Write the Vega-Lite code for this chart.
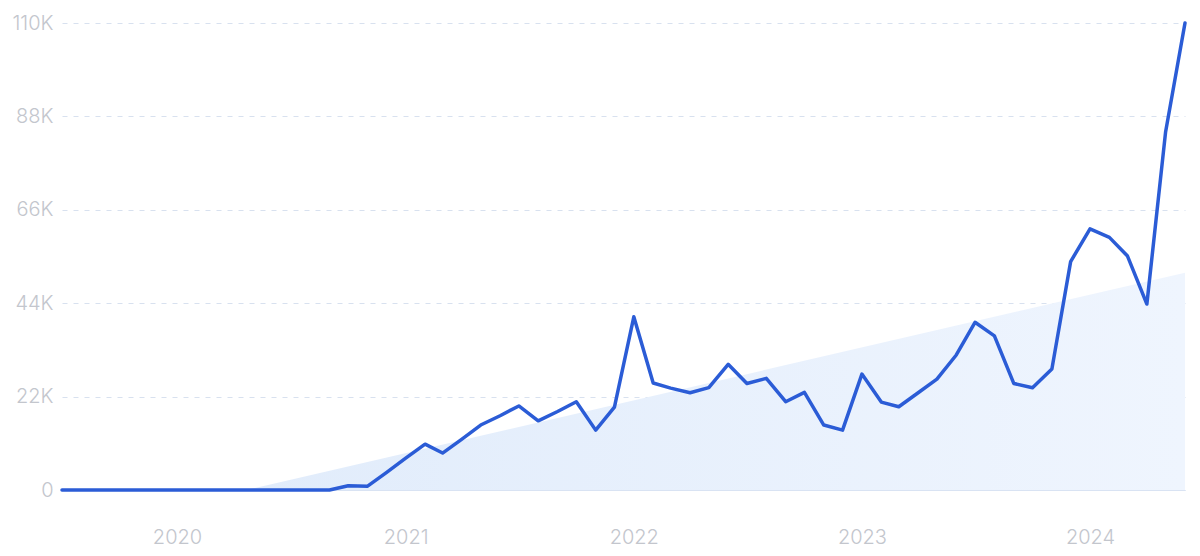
{
  "$schema": "https://vega.github.io/schema/vega-lite/v6.json",
  "autosize": {"type": "none"},
  "width": 1123,
  "height": 467,
  "padding": {"left": 62, "top": 23, "right": 15, "bottom": 66},
  "background": "white",
  "config": {
    "view": {"stroke": null},
    "font": "Inter"
  },
  "datasets": {
    "trend": [
      {"date": "2020-04-21", "value": 0},
      {"date": "2024-06-01", "value": 51200}
    ],
    "series": [
      {"date": "2019-07-01", "value": 0},
      {"date": "2019-08-01", "value": 0},
      {"date": "2019-09-01", "value": 0},
      {"date": "2019-10-01", "value": 0},
      {"date": "2019-11-01", "value": 0},
      {"date": "2019-12-01", "value": 0},
      {"date": "2020-01-01", "value": 0},
      {"date": "2020-02-01", "value": 0},
      {"date": "2020-03-01", "value": 0},
      {"date": "2020-04-01", "value": 0},
      {"date": "2020-05-01", "value": 0},
      {"date": "2020-06-01", "value": 0},
      {"date": "2020-07-01", "value": 0},
      {"date": "2020-08-01", "value": 0},
      {"date": "2020-09-01", "value": 0},
      {"date": "2020-10-01", "value": 1000},
      {"date": "2020-11-01", "value": 900},
      {"date": "2020-12-01", "value": 4100},
      {"date": "2021-01-01", "value": 7500},
      {"date": "2021-02-01", "value": 10800},
      {"date": "2021-03-01", "value": 8700},
      {"date": "2021-04-01", "value": 12000},
      {"date": "2021-05-01", "value": 15300},
      {"date": "2021-06-01", "value": 17500},
      {"date": "2021-07-01", "value": 19800},
      {"date": "2021-08-01", "value": 16300},
      {"date": "2021-09-01", "value": 18500},
      {"date": "2021-10-01", "value": 20800},
      {"date": "2021-11-01", "value": 14100},
      {"date": "2021-12-01", "value": 19500},
      {"date": "2022-01-01", "value": 40800},
      {"date": "2022-02-01", "value": 25200},
      {"date": "2022-03-01", "value": 24000},
      {"date": "2022-04-01", "value": 22900},
      {"date": "2022-05-01", "value": 24100},
      {"date": "2022-06-01", "value": 29600},
      {"date": "2022-07-01", "value": 25100},
      {"date": "2022-08-01", "value": 26300},
      {"date": "2022-09-01", "value": 20800},
      {"date": "2022-10-01", "value": 23000},
      {"date": "2022-11-01", "value": 15300},
      {"date": "2022-12-01", "value": 14100},
      {"date": "2023-01-01", "value": 27300},
      {"date": "2023-02-01", "value": 20700},
      {"date": "2023-03-01", "value": 19600},
      {"date": "2023-04-01", "value": 22900},
      {"date": "2023-05-01", "value": 26100},
      {"date": "2023-06-01", "value": 31800},
      {"date": "2023-07-01", "value": 39500},
      {"date": "2023-08-01", "value": 36300},
      {"date": "2023-09-01", "value": 25100},
      {"date": "2023-10-01", "value": 24100},
      {"date": "2023-11-01", "value": 28500},
      {"date": "2023-12-01", "value": 53800},
      {"date": "2024-01-01", "value": 61500},
      {"date": "2024-02-01", "value": 59500},
      {"date": "2024-03-01", "value": 55100},
      {"date": "2024-04-01", "value": 43800},
      {"date": "2024-05-01", "value": 84400},
      {"date": "2024-06-01", "value": 110000}
    ]
  },
  "encoding": {
    "x": {
      "field": "date",
      "type": "temporal",
      "scale": {
        "type": "utc",
        "domain": [
          {"year": 2019, "month": 7, "date": 1, "utc": true},
          {"year": 2024, "month": 6, "date": 1, "utc": true}
        ]
      },
      "axis": {
        "title": null,
        "values": [
          {"year": 2020, "month": 1, "date": 1, "utc": true},
          {"year": 2021, "month": 1, "date": 1, "utc": true},
          {"year": 2022, "month": 1, "date": 1, "utc": true},
          {"year": 2023, "month": 1, "date": 1, "utc": true},
          {"year": 2024, "month": 1, "date": 1, "utc": true}
        ],
        "format": "%Y",
        "grid": false,
        "ticks": false,
        "domain": true,
        "domainColor": "#d9e3f3",
        "domainWidth": 1,
        "labelFont": "Inter",
        "labelFontSize": 20,
        "labelFontWeight": 300,
        "labelColor": "#c3c6cd",
        "labelPadding": 37,
        "labelFlush": false
      }
    },
    "y": {
      "field": "value",
      "type": "quantitative",
      "scale": {"domain": [0, 110000], "nice": false},
      "axis": {
        "title": null,
        "values": [0, 22000, 44000, 66000, 88000, 110000],
        "labelExpr": "datum.value == 0 ? '0' : (datum.value / 1000) + 'K'",
        "domain": false,
        "ticks": false,
        "grid": true,
        "gridColor": "#d8e1ef",
        "gridDash": [5, 6],
        "gridWidth": 1,
        "labelFont": "Inter",
        "labelFontSize": 20,
        "labelFontWeight": 300,
        "labelColor": "#c3c6cd",
        "labelPadding": 9
      }
    }
  },
  "layer": [
    {
      "data": {"name": "trend"},
      "mark": {
        "type": "area",
        "color": {
          "gradient": "linear",
          "x1": 0, "y1": 0, "x2": 1, "y2": 0,
          "stops": [
            {"offset": 0, "color": "#e1ecfb"},
            {"offset": 1, "color": "#eff5fe"}
          ]
        }
      }
    },
    {
      "data": {"name": "series"},
      "mark": {
        "type": "line",
        "color": "#2b5cd6",
        "strokeWidth": 3.5,
        "strokeJoin": "round",
        "strokeCap": "round"
      }
    }
  ]
}
